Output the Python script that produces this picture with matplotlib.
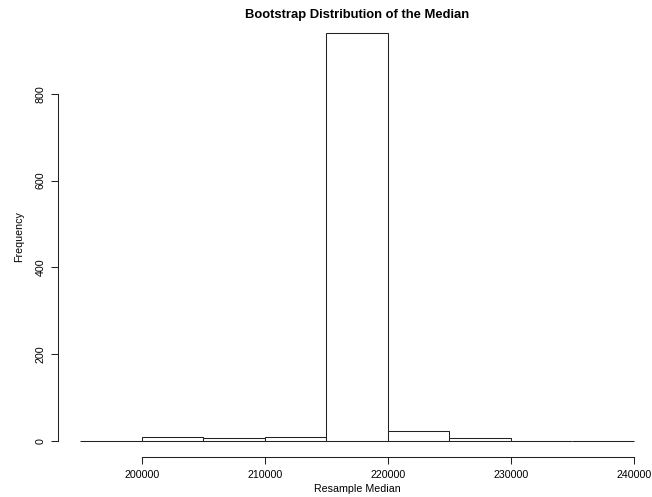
import matplotlib
matplotlib.use("Agg")
import matplotlib.pyplot as plt
import numpy as np

plt.rcParams['font.family'] = ['Liberation Sans', 'DejaVu Sans']

# histogram of 1000 bootstrap medians, bin width 5000
bin_edges = [195000, 200000, 205000, 210000, 215000, 220000, 225000, 230000, 235000, 240000]
counts = [1, 10, 6, 10, 940, 24, 7, 1, 1]
x_ticks = [200000, 210000, 220000, 230000, 240000]
y_ticks = [0, 200, 400, 600, 800]

W, H = 652, 497
fig = plt.figure(figsize=(W / 100, H / 100), dpi=100)
# plot region in pixels (R style, axes extend 4% beyond data)
left, right, top, bottom = 58, 656, 16.7, 457.3
ax = fig.add_axes([left / W, 1 - bottom / H, (right - left) / W, (bottom - top) / H])

edges = np.array(bin_edges)
ax.bar(edges[:-1], counts, width=np.diff(edges), align='edge',
       facecolor='white', edgecolor='#222222', linewidth=0.75)

span = edges[-1] - edges[0]
ax.set_xlim(edges[0] - 0.04 * span, edges[-1] + 0.04 * span)
ymax = max(counts)
ax.set_ylim(-0.04 * ymax, 1.04 * ymax)

for s in ('top', 'right'):
    ax.spines[s].set_visible(False)
ax.spines['left'].set_bounds(y_ticks[0], y_ticks[-1])
ax.spines['bottom'].set_bounds(x_ticks[0], x_ticks[-1])
for s in ('left', 'bottom'):
    ax.spines[s].set_linewidth(0.75)
    ax.spines[s].set_color('#222222')

ax.set_xticks(x_ticks)
ax.set_xticklabels([str(v) for v in x_ticks])
ax.set_yticks(y_ticks)
ax.set_yticklabels([str(v) for v in y_ticks], rotation=90, va='center')
ax.tick_params(length=5, width=0.75, color='#222222', labelsize=7.7, pad=4)

ax.set_xlabel('Resample Median', fontsize=7.7, labelpad=3)
ax.set_ylabel('Frequency', fontsize=7.7, labelpad=8)
fig.text((left + right) / 2 / W, 1 - 15 / H, 'Bootstrap Distribution of the Median',
         ha='center', va='center', fontsize=9.4, fontweight='bold')

fig.savefig('out.png', dpi=100, facecolor='white')
